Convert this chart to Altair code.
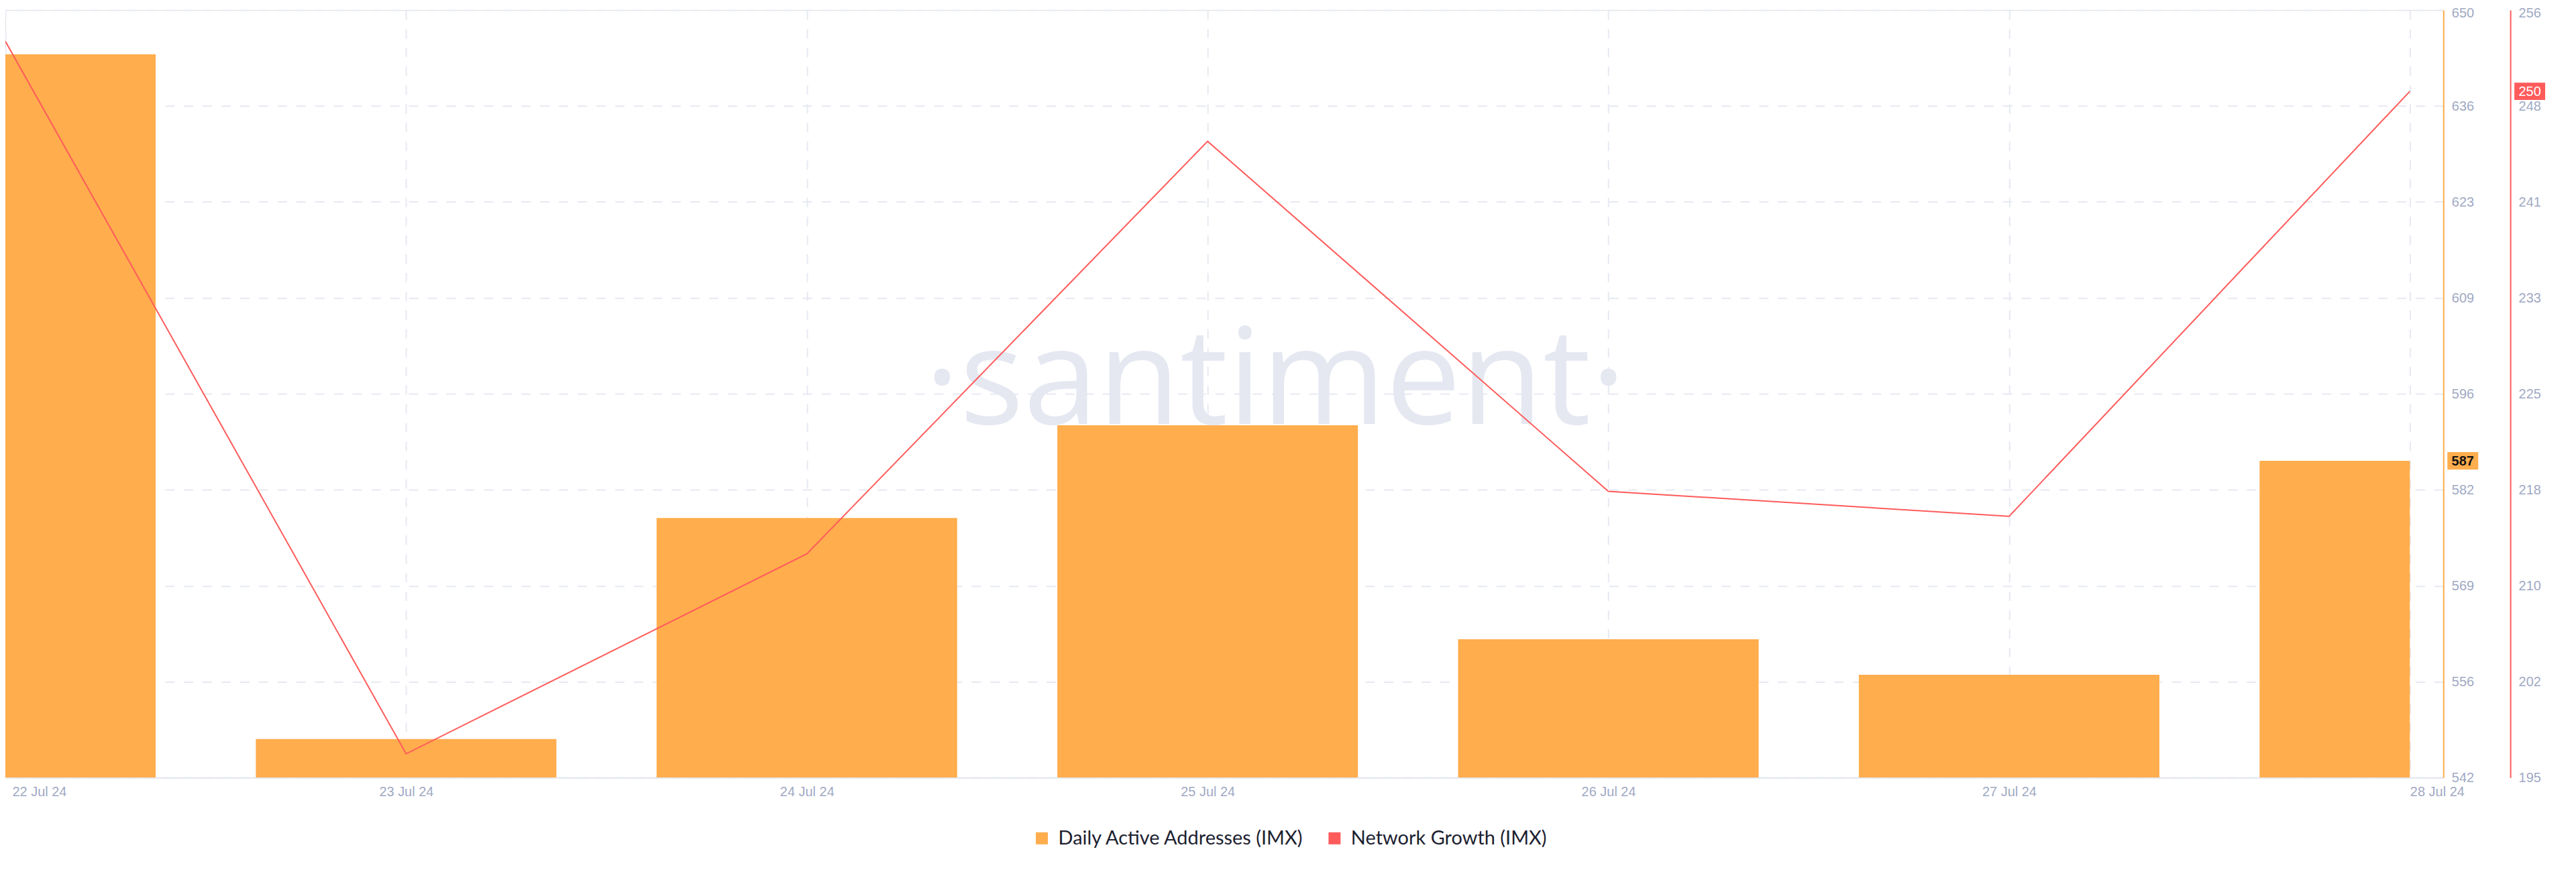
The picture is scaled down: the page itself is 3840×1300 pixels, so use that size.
import altair as alt
import pandas as pd

# ---- data ----
dates = ["22 Jul 24", "23 Jul 24", "24 Jul 24", "25 Jul 24", "26 Jul 24", "27 Jul 24", "28 Jul 24"]
daily_active = [644, 548, 579, 592, 562, 557, 587]
network_growth = [254, 197, 213, 246, 218, 216, 250]
daa_tick_labels = ["542", "556", "569", "582", "596", "609", "623", "636", "650"]
ng_tick_labels = ["195", "202", "210", "218", "225", "233", "241", "248", "256"]
series_names = ["Daily Active Addresses (IMX)", "Network Growth (IMX)"]
series_colors = ["#FFAD4D", "#FF5B5B"]
watermark_text = ["\u00b7santiment\u00b7"]

# axis extents (labels are floored tick values)
DAA_MIN, DAA_MAX = 542.6, 650.2
NG_MIN, NG_MAX = 195.1, 256.5

# ---- layout / style ----
W, H = 3640, 1146
STEP_PX = 598.0
LAST_I = len(dates) - 1
X_END = LAST_I + 50 / STEP_PX
BAR_HALF = 0.375
GRID = "#E6E9F2"
LABEL = "#9FA9C3"
AXIS_FONT = "Liberation Sans"

df = pd.DataFrame({"i": list(range(len(dates))), "date": dates,
                   "daa": daily_active, "ng": network_growth})
last = df.iloc[[-1]]

n_ticks = len(daa_tick_labels)
daa_step = (DAA_MAX - DAA_MIN) / (n_ticks - 1)
ng_step = (NG_MAX - NG_MIN) / (n_ticks - 1)
daa_vals = [DAA_MIN + k * daa_step for k in range(n_ticks)]
ng_vals = [NG_MIN + k * ng_step for k in range(n_ticks)]

x_scale = alt.Scale(domain=[0, X_END], nice=False, zero=False)
x_axis = alt.Axis(
    values=list(range(len(dates))),
    labelExpr=f"{dates}[round(datum.value)]",
    title=None, grid=True, gridDash=[14, 14], gridColor=GRID, gridWidth=2,
    ticks=False, domainColor="#E3E6EF", domainWidth=2,
    labelColor=LABEL, labelFont=AXIS_FONT, labelFontSize=20, labelPadding=11,
    labelFlush=False, labelBaseline="top",
    labelAlign={"condition": {"test": "datum.index == 0 || datum.index == 1", "value": "left"},
                "value": "center"},
    labelOffset={"condition": {"test": "datum.index == 0", "value": 10}, "value": 0},
)

top_label_offset = {"condition": {"test": "datum.index == 1", "value": 5}, "value": 0}

daa_axis = alt.Axis(
    orient="right", offset=0, values=daa_vals,
    labelExpr=f"{daa_tick_labels}[round((datum.value - {DAA_MIN}) / {daa_step})]",
    title=None, grid=True, gridDash=[14, 14], gridColor=GRID, gridWidth=2,
    ticks=False, domainColor=series_colors[0], domainWidth=2,
    labelColor=LABEL, labelFont=AXIS_FONT, labelFontSize=20, labelPadding=12,
    labelOffset=top_label_offset,
)
ng_axis = alt.Axis(
    orient="right", offset=100, values=ng_vals,
    labelExpr=f"{ng_tick_labels}[round((datum.value - {NG_MIN}) / {ng_step})]",
    title=None, grid=False,
    ticks=False, domainColor=series_colors[1], domainWidth=2,
    labelColor=LABEL, labelFont=AXIS_FONT, labelFontSize=20, labelPadding=12,
    labelOffset=top_label_offset,
)

daa_y_scale = alt.Scale(domain=[DAA_MIN, DAA_MAX], nice=False, zero=False)
ng_y_scale = alt.Scale(domain=[NG_MIN, NG_MAX], nice=False, zero=False)

BADGE_PATH = "M-1,-0.565L1,-0.565L1,0.565L-1,0.565Z"

watermark = alt.Chart(pd.DataFrame({"t": watermark_text})).mark_text(
    font="Open Sans", fontSize=200, color="#E5E8F1",
    align="center", baseline="alphabetic"
).encode(x=alt.value(1896), y=alt.value(618), text="t:N")

bars = alt.Chart(df).transform_calculate(
    x0=f"max(datum.i - {BAR_HALF}, 0)", x1=f"min(datum.i + {BAR_HALF}, {LAST_I})",
    series=f"'{series_names[0]}'"
).mark_bar(clip=True, opacity=1).encode(
    x=alt.X("x0:Q", scale=x_scale, axis=x_axis),
    x2="x1:Q",
    y=alt.Y("daa:Q", scale=daa_y_scale, axis=daa_axis),
    y2=alt.value(H),
    color=alt.Color("series:N",
                    scale=alt.Scale(domain=series_names, range=series_colors),
                    legend=alt.Legend(
                        orient="none", legendX=1533, legendY=1222,
                        direction="horizontal", title=None,
                        symbolType="square", symbolSize=324, symbolStrokeWidth=0,
                        symbolOpacity=1, labelFont="Lato", labelFontSize=29,
                        labelLimit=0,
                        labelColor="#1C2130", labelOffset=10, columnPadding=30,
                        padding=0)),
)

daa_badge = alt.Chart(last).mark_point(
    shape=BADGE_PATH, filled=True, size=46 * 46, opacity=1, color=series_colors[0]
).encode(x=alt.value(W + 29), y=alt.Y("daa:Q", axis=daa_axis))

daa_badge_text = alt.Chart(last).mark_text(
    font=AXIS_FONT, fontSize=20, fontWeight="bold", color="#111111",
    align="center", baseline="middle", dy=1
).encode(x=alt.value(W + 29), y=alt.Y("daa:Q", axis=daa_axis), text="daa:Q")

daa_layer = alt.layer(bars, daa_badge, daa_badge_text)

line = alt.Chart(df).mark_line(color=series_colors[1], strokeWidth=2, clip=True).encode(
    x=alt.X("i:Q", scale=x_scale, axis=x_axis),
    y=alt.Y("ng:Q", scale=ng_y_scale, axis=ng_axis),
)

ng_badge = alt.Chart(last).mark_point(
    shape=BADGE_PATH, filled=True, size=46 * 46, opacity=1, color=series_colors[1]
).encode(x=alt.value(W + 129), y=alt.Y("ng:Q", axis=ng_axis))

ng_badge_text = alt.Chart(last).mark_text(
    font=AXIS_FONT, fontSize=20, color="white",
    align="center", baseline="middle", dy=1
).encode(x=alt.value(W + 129), y=alt.Y("ng:Q", axis=ng_axis), text="ng:Q")

ng_layer = alt.layer(line, ng_badge, ng_badge_text)

chart = alt.layer(watermark, daa_layer, ng_layer).resolve_scale(
    y="independent"
).properties(
    width=W, height=H,
    autosize=alt.AutoSizeParams(type="none"),
    padding={"left": 0, "top": 6, "right": 190, "bottom": 138},
).configure_view(stroke=None).configure(background="white")

chart.save("out.html", embed_options={"renderer": "svg", "actions": False})
